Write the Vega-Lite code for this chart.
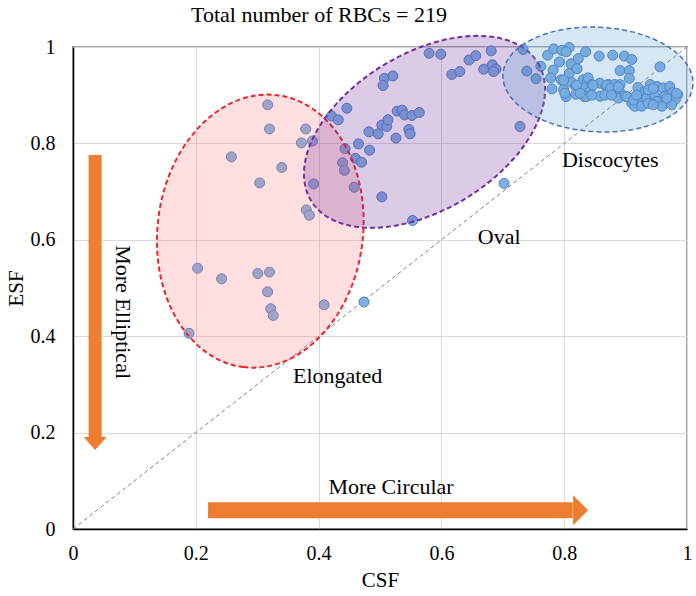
{
  "$schema": "https://vega.github.io/schema/vega-lite/v6.json",
  "width": 614,
  "height": 482,
  "autosize": "none",
  "padding": {"left": 73, "top": 47, "right": 9, "bottom": 67},
  "background": "white",
  "config": {"view": {"stroke": "#a6a6a6", "strokeWidth": 2}, "font": "Liberation Serif"},
  "title": {"text": "Total number of RBCs = 219", "fontSize": 22, "font": "Liberation Serif", "fontWeight": "normal", "color": "black", "frame": "group", "anchor": "middle", "dx": -61, "dy": 3, "offset": 0},
  "datasets": {
    "cells": [
      {"CSF": 0.317, "ESF": 0.880}, {"CSF": 0.320, "ESF": 0.830}, {"CSF": 0.379, "ESF": 0.830}, {"CSF": 0.372, "ESF": 0.801},
      {"CSF": 0.390, "ESF": 0.805}, {"CSF": 0.258, "ESF": 0.772}, {"CSF": 0.340, "ESF": 0.750}, {"CSF": 0.304, "ESF": 0.718},
      {"CSF": 0.392, "ESF": 0.716}, {"CSF": 0.380, "ESF": 0.662}, {"CSF": 0.385, "ESF": 0.651}, {"CSF": 0.203, "ESF": 0.541},
      {"CSF": 0.242, "ESF": 0.519}, {"CSF": 0.301, "ESF": 0.530}, {"CSF": 0.320, "ESF": 0.533}, {"CSF": 0.317, "ESF": 0.492},
      {"CSF": 0.322, "ESF": 0.457}, {"CSF": 0.326, "ESF": 0.443}, {"CSF": 0.409, "ESF": 0.465}, {"CSF": 0.189, "ESF": 0.406},
      {"CSF": 0.474, "ESF": 0.471}, {"CSF": 0.702, "ESF": 0.717}, {"CSF": 0.553, "ESF": 0.640},
      {"CSF": 0.446, "ESF": 0.873}, {"CSF": 0.421, "ESF": 0.857}, {"CSF": 0.432, "ESF": 0.849}, {"CSF": 0.443, "ESF": 0.789},
      {"CSF": 0.465, "ESF": 0.799}, {"CSF": 0.460, "ESF": 0.769}, {"CSF": 0.470, "ESF": 0.761}, {"CSF": 0.483, "ESF": 0.786},
      {"CSF": 0.439, "ESF": 0.760}, {"CSF": 0.442, "ESF": 0.744}, {"CSF": 0.458, "ESF": 0.709}, {"CSF": 0.503, "ESF": 0.689},
      {"CSF": 0.482, "ESF": 0.824}, {"CSF": 0.497, "ESF": 0.820}, {"CSF": 0.503, "ESF": 0.838}, {"CSF": 0.511, "ESF": 0.835},
      {"CSF": 0.513, "ESF": 0.849}, {"CSF": 0.526, "ESF": 0.811}, {"CSF": 0.528, "ESF": 0.867}, {"CSF": 0.536, "ESF": 0.869},
      {"CSF": 0.540, "ESF": 0.859}, {"CSF": 0.547, "ESF": 0.829}, {"CSF": 0.549, "ESF": 0.820}, {"CSF": 0.552, "ESF": 0.858},
      {"CSF": 0.564, "ESF": 0.864}, {"CSF": 0.580, "ESF": 0.987}, {"CSF": 0.599, "ESF": 0.985}, {"CSF": 0.645, "ESF": 0.973},
      {"CSF": 0.656, "ESF": 0.982}, {"CSF": 0.681, "ESF": 0.992}, {"CSF": 0.669, "ESF": 0.954}, {"CSF": 0.683, "ESF": 0.963},
      {"CSF": 0.689, "ESF": 0.954}, {"CSF": 0.685, "ESF": 0.949}, {"CSF": 0.617, "ESF": 0.943}, {"CSF": 0.630, "ESF": 0.949},
      {"CSF": 0.507, "ESF": 0.935}, {"CSF": 0.521, "ESF": 0.940}, {"CSF": 0.505, "ESF": 0.920}, {"CSF": 0.728, "ESF": 0.835},
      {"CSF": 0.733, "ESF": 0.995}, {"CSF": 0.739, "ESF": 0.950}, {"CSF": 0.754, "ESF": 0.934}, {"CSF": 0.762, "ESF": 0.960},
      {"CSF": 0.773, "ESF": 0.983}, {"CSF": 0.783, "ESF": 0.996}, {"CSF": 0.796, "ESF": 0.993}, {"CSF": 0.808, "ESF": 0.999},
      {"CSF": 0.803, "ESF": 0.990}, {"CSF": 0.835, "ESF": 0.990}, {"CSF": 0.792, "ESF": 0.969}, {"CSF": 0.811, "ESF": 0.965},
      {"CSF": 0.823, "ESF": 0.976}, {"CSF": 0.782, "ESF": 0.952}, {"CSF": 0.808, "ESF": 0.945}, {"CSF": 0.821, "ESF": 0.955},
      {"CSF": 0.778, "ESF": 0.936}, {"CSF": 0.795, "ESF": 0.932}, {"CSF": 0.812, "ESF": 0.927}, {"CSF": 0.831, "ESF": 0.932},
      {"CSF": 0.780, "ESF": 0.913}, {"CSF": 0.799, "ESF": 0.912}, {"CSF": 0.819, "ESF": 0.918}, {"CSF": 0.838, "ESF": 0.929},
      {"CSF": 0.803, "ESF": 0.897}, {"CSF": 0.819, "ESF": 0.902}, {"CSF": 0.833, "ESF": 0.897}, {"CSF": 0.834, "ESF": 0.915},
      {"CSF": 0.857, "ESF": 0.981}, {"CSF": 0.879, "ESF": 0.983}, {"CSF": 0.898, "ESF": 0.981}, {"CSF": 0.910, "ESF": 0.974},
      {"CSF": 0.956, "ESF": 0.959}, {"CSF": 0.891, "ESF": 0.951}, {"CSF": 0.906, "ESF": 0.951}, {"CSF": 0.906, "ESF": 0.935},
      {"CSF": 0.839, "ESF": 0.936}, {"CSF": 0.845, "ESF": 0.922}, {"CSF": 0.842, "ESF": 0.908}, {"CSF": 0.836, "ESF": 0.897},
      {"CSF": 0.858, "ESF": 0.925}, {"CSF": 0.868, "ESF": 0.918}, {"CSF": 0.872, "ESF": 0.922}, {"CSF": 0.882, "ESF": 0.922},
      {"CSF": 0.891, "ESF": 0.922}, {"CSF": 0.858, "ESF": 0.898}, {"CSF": 0.871, "ESF": 0.905}, {"CSF": 0.882, "ESF": 0.901},
      {"CSF": 0.891, "ESF": 0.905}, {"CSF": 0.888, "ESF": 0.894}, {"CSF": 0.899, "ESF": 0.898}, {"CSF": 0.910, "ESF": 0.894},
      {"CSF": 0.920, "ESF": 0.916}, {"CSF": 0.932, "ESF": 0.908}, {"CSF": 0.940, "ESF": 0.922}, {"CSF": 0.951, "ESF": 0.918},
      {"CSF": 0.910, "ESF": 0.884}, {"CSF": 0.923, "ESF": 0.884}, {"CSF": 0.915, "ESF": 0.877}, {"CSF": 0.926, "ESF": 0.877},
      {"CSF": 0.934, "ESF": 0.894}, {"CSF": 0.948, "ESF": 0.898}, {"CSF": 0.961, "ESF": 0.915}, {"CSF": 0.964, "ESF": 0.898},
      {"CSF": 0.972, "ESF": 0.918}, {"CSF": 0.976, "ESF": 0.905}, {"CSF": 0.985, "ESF": 0.901}, {"CSF": 0.951, "ESF": 0.887},
      {"CSF": 0.964, "ESF": 0.884}, {"CSF": 0.972, "ESF": 0.891}, {"CSF": 0.981, "ESF": 0.891}, {"CSF": 0.959, "ESF": 0.877},
      {"CSF": 0.975, "ESF": 0.880}, {"CSF": 0.799, "ESF": 0.931}, {"CSF": 0.801, "ESF": 0.904}, {"CSF": 0.820, "ESF": 0.921},
      {"CSF": 0.826, "ESF": 0.904}, {"CSF": 0.847, "ESF": 0.921}, {"CSF": 0.845, "ESF": 0.900}, {"CSF": 0.869, "ESF": 0.921},
      {"CSF": 0.875, "ESF": 0.914}, {"CSF": 0.866, "ESF": 0.900}, {"CSF": 0.877, "ESF": 0.900}, {"CSF": 0.888, "ESF": 0.917},
      {"CSF": 0.902, "ESF": 0.897}, {"CSF": 0.913, "ESF": 0.890}, {"CSF": 0.918, "ESF": 0.900}, {"CSF": 0.937, "ESF": 0.911},
      {"CSF": 0.945, "ESF": 0.914}, {"CSF": 0.967, "ESF": 0.894}, {"CSF": 0.983, "ESF": 0.904}, {"CSF": 0.937, "ESF": 0.883},
      {"CSF": 0.945, "ESF": 0.880}
    ],
    "regions": [
      {"region": "Elongated", "CSF": 0.305, "ESF": 0.618},
      {"region": "Oval", "CSF": 0.5725, "ESF": 0.824},
      {"region": "Discocytes", "CSF": 0.855, "ESF": 0.9326}
    ],
    "diagonal": [{"CSF": 0, "ESF": 0, "CSF2": 1, "ESF2": 1}],
    "arrows": [
      {"direction": "down", "CSF": 0.036, "ESF": 0.776, "CSF2": 0.036, "ESF2": 0.19, "tipCSF": 0.036, "tipESF": 0.164},
      {"direction": "right", "CSF": 0.22, "ESF": 0.039, "CSF2": 0.814, "ESF2": 0.039, "tipCSF": 0.839, "tipESF": 0.039}
    ],
    "labels": [
      {"label": "Elongated", "CSF": 0.431, "ESF": 0.317},
      {"label": "Oval", "CSF": 0.694, "ESF": 0.606},
      {"label": "Discocytes", "CSF": 0.875, "ESF": 0.766},
      {"label": "More Circular", "CSF": 0.518, "ESF": 0.087}
    ],
    "vlabels": [
      {"label": "More Elliptical", "CSF": 0.081, "ESF": 0.45}
    ]
  },
  "encoding": {
    "x": {
      "field": "CSF", "type": "quantitative",
      "scale": {"domain": [0, 1], "nice": false, "zero": false},
      "axis": {
        "title": "CSF", "values": [0, 0.2, 0.4, 0.6, 0.8, 1], "format": "~g",
        "grid": true, "gridColor": "#d9d9d9", "gridWidth": 1, "ticks": false,
        "labelPadding": 14, "labelFontSize": 20, "labelFont": "Liberation Serif", "labelColor": "black",
        "labelFlush": false, "labelOverlap": false,
        "titleFontSize": 21, "titleFont": "Liberation Serif", "titleFontWeight": "normal", "titleColor": "black", "titlePadding": 6,
        "domainColor": "black", "domainWidth": 1.5
      }
    },
    "y": {
      "field": "ESF", "type": "quantitative",
      "scale": {"domain": [0, 1], "nice": false, "zero": false},
      "axis": {
        "title": "ESF", "values": [0, 0.2, 0.4, 0.6, 0.8, 1], "format": "~g",
        "grid": true, "gridColor": "#d9d9d9", "gridWidth": 1, "ticks": false,
        "labelPadding": 18, "labelFontSize": 20, "labelFont": "Liberation Serif", "labelColor": "black",
        "labelFlush": false, "labelOverlap": false,
        "titleFontSize": 21, "titleFont": "Liberation Serif", "titleFontWeight": "normal", "titleColor": "black", "titlePadding": 4,
        "domainColor": "black", "domainWidth": 1.5
      }
    }
  },
  "layer": [
    {
      "data": {"name": "diagonal"},
      "mark": {"type": "rule", "stroke": "#7f7f7f", "strokeDash": [4, 3], "strokeWidth": 1},
      "encoding": {"x2": {"field": "CSF2"}, "y2": {"field": "ESF2"}}
    },
    {
      "data": {"name": "cells"},
      "mark": {"type": "point", "filled": true, "shape": "circle", "size": 100, "fill": "#7eb0e2", "stroke": "#4f7fc4", "strokeWidth": 1, "opacity": 1, "fillOpacity": 1, "strokeOpacity": 1}
    },
    {
      "data": {"name": "regions"},
      "transform": [{"filter": "datum.region === 'Elongated'"}],
      "mark": {"type": "point", "filled": true, "opacity": 1,
        "shape": "M 1 0 C 1 0.414 0.552 0.75 0 0.75 C -0.552 0.75 -1 0.414 -1 0 C -1 -0.414 -0.552 -0.75 0 -0.75 C 0.552 -0.75 1 -0.414 1 0 Z",
        "size": 75076, "angle": 97, "fill": "#ff8080", "fillOpacity": 0.25, "stroke": "#e8262b", "strokeOpacity": 1, "strokeWidth": 2, "strokeDash": [5, 3]}
    },
    {
      "data": {"name": "regions"},
      "transform": [{"filter": "datum.region === 'Oval'"}],
      "mark": {"type": "point", "filled": true, "opacity": 1,
        "shape": "M 1 0 C 1 0.326 0.552 0.59 0 0.59 C -0.552 0.59 -1 0.326 -1 0 C -1 -0.326 -0.552 -0.59 0 -0.59 C 0.552 -0.59 1 -0.326 1 0 Z",
        "size": 70437, "angle": 328.8, "fill": "#7030a0", "fillOpacity": 0.25, "stroke": "#7030a0", "strokeOpacity": 1, "strokeWidth": 2, "strokeDash": [5, 3]}
    },
    {
      "data": {"name": "regions"},
      "transform": [{"filter": "datum.region === 'Discocytes'"}],
      "mark": {"type": "point", "filled": true, "opacity": 1,
        "shape": "M 1 0 C 1 0.304 0.552 0.55 0 0.55 C -0.552 0.55 -1 0.304 -1 0 C -1 -0.304 -0.552 -0.55 0 -0.55 C 0.552 -0.55 1 -0.304 1 0 Z",
        "size": 36176, "angle": 3, "fill": "#5b9bd5", "fillOpacity": 0.25, "stroke": "#4472c4", "strokeOpacity": 1, "strokeWidth": 1.5, "strokeDash": [5, 3]}
    },
    {
      "data": {"name": "arrows"},
      "transform": [{"filter": "datum.direction === 'down'"}],
      "mark": {"type": "rule", "stroke": "#ed7d31", "strokeWidth": 13, "strokeCap": "butt"},
      "encoding": {"x2": {"field": "CSF2"}, "y2": {"field": "ESF2"}}
    },
    {
      "data": {"name": "arrows"},
      "transform": [{"filter": "datum.direction === 'right'"}],
      "mark": {"type": "rule", "stroke": "#ed7d31", "strokeWidth": 16, "strokeCap": "butt"},
      "encoding": {"x2": {"field": "CSF2"}, "y2": {"field": "ESF2"}}
    },
    {
      "data": {"name": "arrows"},
      "transform": [{"filter": "datum.direction === 'down'"}],
      "mark": {"type": "point", "filled": true, "opacity": 1, "fill": "#ed7d31", "strokeWidth": 0,
        "shape": "M 0 0 L -1 -1.13 L 1 -1.13 Z", "size": 529},
      "encoding": {"x": {"field": "tipCSF", "type": "quantitative"}, "y": {"field": "tipESF", "type": "quantitative"}}
    },
    {
      "data": {"name": "arrows"},
      "transform": [{"filter": "datum.direction === 'right'"}],
      "mark": {"type": "point", "filled": true, "opacity": 1, "fill": "#ed7d31", "strokeWidth": 0,
        "shape": "M 0 0 L -1 -1 L -1 1 Z", "size": 900},
      "encoding": {"x": {"field": "tipCSF", "type": "quantitative"}, "y": {"field": "tipESF", "type": "quantitative"}}
    },
    {
      "data": {"name": "labels"},
      "mark": {"type": "text", "font": "Liberation Serif", "fontSize": 22, "color": "black", "align": "center", "baseline": "middle"},
      "encoding": {"text": {"field": "label"}}
    },
    {
      "data": {"name": "vlabels"},
      "mark": {"type": "text", "font": "Liberation Serif", "fontSize": 22, "color": "black", "align": "center", "baseline": "middle", "angle": 90},
      "encoding": {"text": {"field": "label"}}
    }
  ]
}
